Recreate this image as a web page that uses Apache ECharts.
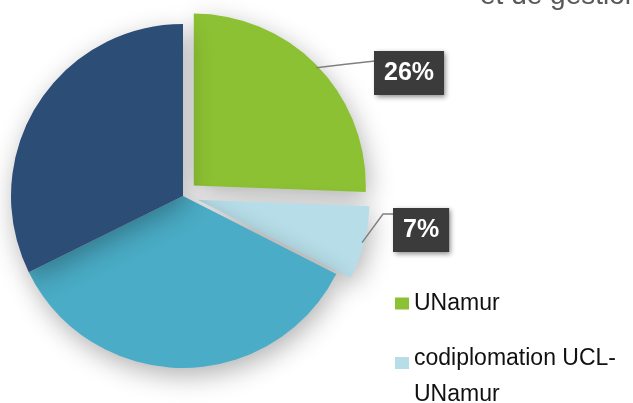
<!DOCTYPE html>
<html><head><meta charset="utf-8">
<script src="https://cdn.jsdelivr.net/npm/echarts@6/dist/echarts.min.js"></script>
<style>html,body{margin:0;padding:0;background:#fff;overflow:hidden}#c{width:633px;height:403px}</style>
</head><body><div id="c"></div>
<script>
// ---- data ----
const categories = ['UNamur', 'codiplomation UCL-UNamur', 'UCL', 'Autres'];
const values = [25.6, 6.9, 35.2, 32.3];
const exploded = [true, true, false, false];
const labelled = [true, true, false, false];
const legendFirst = ['UNamur'];
const legendSecond = ['codiplomation UCL-UNamur'];
const titleText = 'et de gestion';

// ---- style / layout ----
const colors = ['#8cc133', '#b6dde8', '#4aacc6', '#2c4d75'];
const CX = 183, CY = 196, R = 172, OFFSET = 15;
const labelBoxes = { 0: [374, 51], 1: [393, 208] };

const chart = echarts.init(document.getElementById('c'), null, { renderer: 'canvas' });

const pieItems = categories.map((name, i) => ({
  name: name,
  value: values[i],
  selected: exploded[i],
  itemStyle: { color: colors[i] }
}));

const labelItems = categories.map((name, i) => ({
  name: name,
  value: values[i],
  label: { show: labelled[i] },
  labelLine: { show: labelled[i] }
}));

const legendText = {
  fontFamily: 'Liberation Sans, Arial, sans-serif',
  fontSize: 23,
  color: '#111',
  lineHeight: 35
};

chart.setOption({
  animation: false,
  title: {
    text: titleText,
    left: 480,
    top: -18,
    padding: 0,
    textStyle: { fontFamily: 'Liberation Sans, Arial, sans-serif', fontSize: 28, fontWeight: 'normal', color: '#595959' }
  },
  legend: [
    {
      data: legendFirst,
      orient: 'vertical',
      left: 395,
      top: 286,
      padding: 0,
      itemWidth: 14,
      itemHeight: 12,
      selectedMode: false,
      icon: 'rect',
      textStyle: legendText
    },
    {
      data: legendSecond,
      orient: 'vertical',
      left: 395,
      top: 313,
      padding: 0,
      itemWidth: 14,
      itemHeight: 12,
      selectedMode: false,
      icon: 'rect',
      formatter: function (n) {
        const parts = n.split('UCL-');
        return '{s| }\n{a|' + parts[0] + 'UCL-}\n{a|' + parts[1] + '}';
      },
      textStyle: Object.assign({}, legendText, {
        rich: {
          s: { fontSize: 10, lineHeight: 28 },
          a: { fontFamily: 'Liberation Sans, Arial, sans-serif', fontSize: 23, color: '#111', lineHeight: 36 }
        }
      })
    }
  ],
  series: [{
    type: 'pie',
    center: [CX, CY],
    radius: R,
    startAngle: 90,
    clockwise: true,
    selectedMode: 'multiple',
    selectedOffset: OFFSET,
    avoidLabelOverlap: false,
    emphasis: { disabled: true },
    itemStyle: {
      shadowBlur: 26,
      shadowColor: 'rgba(0,0,0,0.3)',
      shadowOffsetX: 3,
      shadowOffsetY: 8
    },
    label: { show: false },
    labelLine: { show: false },
    data: pieItems
  }, {
    type: 'pie',
    center: [CX, CY],
    radius: R,
    startAngle: 90,
    clockwise: true,
    silent: true,
    legendHoverLink: false,
    avoidLabelOverlap: false,
    percentPrecision: 0,
    z: 3,
    itemStyle: { color: 'rgba(0,0,0,0)' },
    label: {
      show: true,
      position: 'outside',
      formatter: '{d}%',
      color: '#fff',
      fontFamily: 'Liberation Sans, Arial, sans-serif',
      fontSize: 25,
      fontWeight: 'bold',
      lineHeight: 25,
      backgroundColor: '#3b3b3b',
      padding: [10, 10, 9, 10],
      shadowBlur: 5,
      shadowColor: 'rgba(0,0,0,0.45)',
      shadowOffsetX: 2,
      shadowOffsetY: 2
    },
    labelLine: {
      show: true,
      length: 10,
      length2: 20,
      lineStyle: { color: '#808080', width: 1.5, opacity: 1 }
    },
    labelLayout: function (p) {
      const box = labelBoxes[p.dataIndex];
      if (!box) return {};
      let s = p.labelLinePoints ? p.labelLinePoints[0].slice() : [CX, CY];
      const vx = s[0] - CX, vy = s[1] - CY;
      const len = Math.sqrt(vx * vx + vy * vy) || 1;
      s = [s[0] + (OFFSET - 2) * vx / len, s[1] + (OFFSET - 2) * vy / len];
      let pts;
      if (p.dataIndex === 0) {
        const e = [box[0] + 1, box[1] + 10];
        pts = [s, [(s[0] + e[0]) / 2, (s[1] + e[1]) / 2], e];
      } else {
        pts = [s, [box[0] - 10, box[1] + 6], [box[0] + 1, box[1] + 6]];
      }
      return { x: box[0], y: box[1], align: 'left', verticalAlign: 'top', labelLinePoints: pts };
    },
    data: labelItems
  }]
});
</script></body></html>
